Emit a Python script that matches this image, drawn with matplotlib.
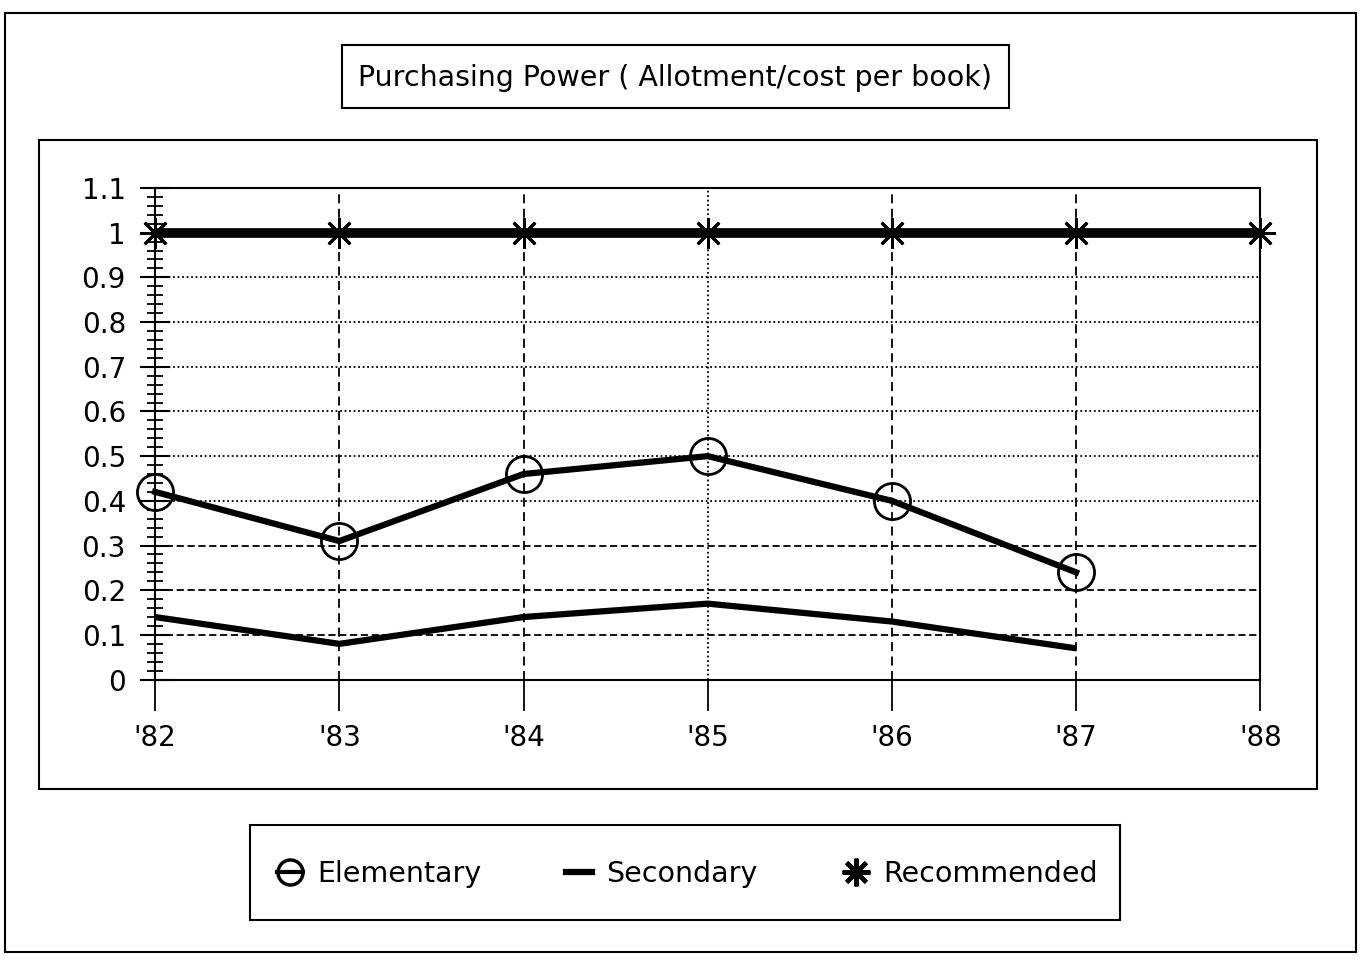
import numpy as np
import matplotlib.pyplot as plt
from matplotlib.patches import Rectangle
from matplotlib.lines import Line2D
from matplotlib.ticker import MultipleLocator

years = ["'82", "'83", "'84", "'85", "'86", "'87", "'88"]
elementary = [0.42, 0.31, 0.46, 0.50, 0.40, 0.24]
secondary = [0.14, 0.08, 0.14, 0.17, 0.13, 0.07]
recommended = [1.0, 1.0, 1.0, 1.0, 1.0, 1.0, 1.0]
yticks = [0, 0.1, 0.2, 0.3, 0.4, 0.5, 0.6, 0.7, 0.8, 0.9, 1.0, 1.1]
ytick_labels = ["0", "0.1", "0.2", "0.3", "0.4", "0.5", "0.6", "0.7", "0.8", "0.9", "1", "1.1"]
series_names = ["Elementary", "Secondary", "Recommended"]
title = "Purchasing Power ( Allotment/cost per book)"

plt.rcParams['font.family'] = 'DejaVu Sans'
fig = plt.figure(figsize=(13.61, 9.64), dpi=100)

# boxes around everything, like the original print-out
fig.patches.append(Rectangle((0.004, 0.012), 0.992, 0.975, transform=fig.transFigure,
                             fill=False, lw=1.5, ec='black'))
fig.patches.append(Rectangle((0.029, 0.182), 0.939, 0.673, transform=fig.transFigure,
                             fill=False, lw=1.5, ec='black'))
fig.patches.append(Rectangle((0.251, 0.888), 0.490, 0.065, transform=fig.transFigure,
                             fill=False, lw=1.5, ec='black'))
fig.patches.append(Rectangle((0.184, 0.046), 0.639, 0.098, transform=fig.transFigure,
                             fill=False, lw=1.5, ec='black'))
fig.text(0.496, 0.919, title, ha='center', va='center', fontsize=20.5)

ax = fig.add_axes([0.114, 0.295, 0.812, 0.510])
x = np.arange(len(years))
ax.set_xlim(0, len(years) - 1)
ax.set_ylim(0, 1.1)

# grid: dotted upper half, dashed lower half
for v in yticks[1:-1]:
    ls = (0, (1, 1.5)) if v >= 0.4 else (0, (4, 2))
    ax.axhline(v, color='black', lw=1.3, ls=ls, zorder=1)
for i in x[1:-1]:
    ls = (0, (1, 1.5)) if i == 3 else (0, (5, 3))
    ax.axvline(i, color='black', lw=1.3, ls=ls, zorder=1)

ax.plot(x[:len(recommended)], recommended, color='black', lw=7, marker=(8, 2, 0),
        markersize=22, markeredgewidth=2, solid_capstyle='butt', clip_on=False, zorder=3)
ax.plot(x[:len(elementary)], elementary, color='black', lw=4.5, marker='o',
        markersize=26, markerfacecolor='none', markeredgewidth=2, clip_on=False, zorder=3)
ax.plot(x[:len(secondary)], secondary, color='black', lw=4.5, solid_capstyle='butt',
        clip_on=False, zorder=3)

ax.set_xticks(x)
ax.set_xticklabels(years)
ax.set_yticks(yticks)
ax.set_yticklabels(ytick_labels)
ax.yaxis.set_minor_locator(MultipleLocator(0.02))
ax.tick_params(axis='y', which='major', direction='inout', length=22, width=1.5,
               labelsize=20, pad=10)
ax.tick_params(axis='y', which='minor', direction='inout', length=11, width=1.3)
ax.tick_params(axis='x', direction='out', length=22, width=1.3, labelsize=20, pad=10)
for s in ax.spines.values():
    s.set_linewidth(1.5)

handles = [
    Line2D([], [], color='black', lw=3, marker='o', markersize=18,
           markerfacecolor='none', markeredgewidth=2.5),
    Line2D([], [], color='black', lw=4.5),
    Line2D([], [], color='black', ls='none', marker=(8, 2, 0), markersize=20,
           markeredgewidth=3),
]
fig.legend(handles, series_names, loc='center', bbox_to_anchor=(0.505, 0.093), ncol=3,
           frameon=False, fontsize=20.5, handlelength=0.9, handletextpad=0.5,
           columnspacing=3.0)

fig.savefig('out.png', dpi=100)
